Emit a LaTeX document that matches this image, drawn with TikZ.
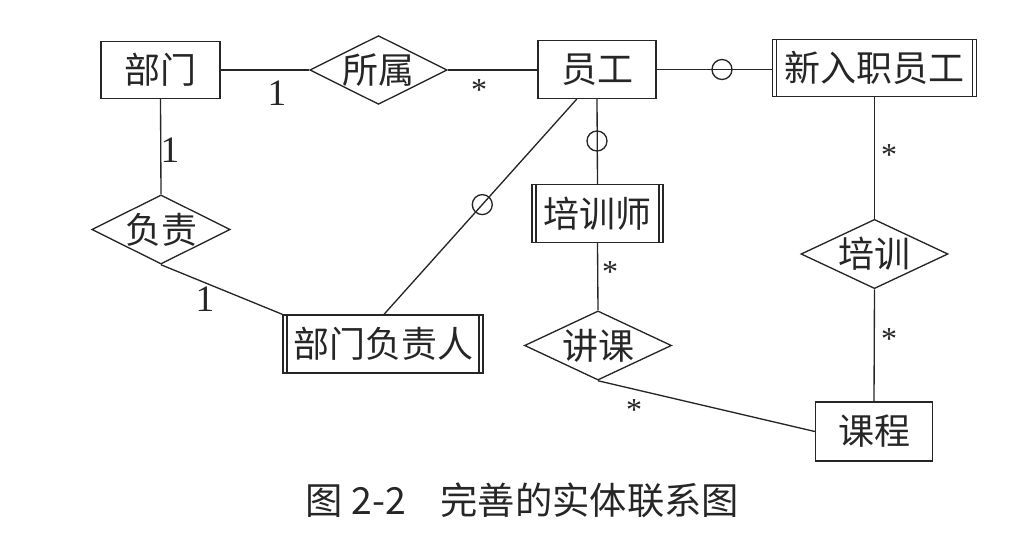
\documentclass[tikz,border=0pt]{standalone}
\usepackage{fontspec}
\setmainfont{Liberation Serif}
\newfontfamily\cjk{Noto Sans CJK SC}
\usetikzlibrary{shapes.geometric,calc}
\tikzset{
  ent/.style={draw, rectangle, inner sep=0pt, font=\cjk\fontsize{27}{30}\selectfont},
  weak/.style={ent, path picture={
      \draw ([xshift=3pt]path picture bounding box.north west) -- ([xshift=3pt]path picture bounding box.south west);
      \draw ([xshift=-3pt]path picture bounding box.north east) -- ([xshift=-3pt]path picture bounding box.south east);}},
  rel/.style={draw, diamond, aspect=2, inner sep=0pt, font=\cjk\fontsize{27}{30}\selectfont},
  opt/.style={draw, circle, minimum size=15pt, inner sep=0pt},
  card/.style={font=\fontsize{28}{30}\selectfont, inner sep=0pt},
  star/.style={font=\fontsize{24}{26}\selectfont, inner sep=0pt},
}
\begin{document}
\begin{tikzpicture}[x=0.75pt,y=-0.75pt,line width=1pt,color=black!85]
\useasboundingbox (0,0) rectangle (1029,549);
% entities
\node[ent, minimum width=89.25pt, minimum height=42.75pt] (bm) at (160.5,70) {部门};
\node[ent, minimum width=88.5pt, minimum height=43.5pt] (yg) at (597,69.5) {员工};
\node[weak, minimum width=153pt, minimum height=42.75pt] (xr) at (874.5,68) {新入职员工};
\node[weak, minimum width=98.25pt, minimum height=43.5pt] (pxs) at (597.5,213.5) {培训师};
\node[weak, minimum width=150pt, minimum height=43.5pt] (bmr) at (383,344) {部门负责人};
\node[ent, minimum width=87.75pt, minimum height=44.25pt] (kc) at (874,431.5) {课程};
% relationships
\node[rel, minimum width=98.25pt, minimum height=48.75pt] (ss) at (378.5,70) {所属};
\node[rel, minimum width=100.5pt, minimum height=48.75pt] (fz) at (161,229.5) {负责};
\node[rel, minimum width=110.25pt, minimum height=49.5pt] (px) at (874.5,254) {培训};
\node[rel, minimum width=110.25pt, minimum height=50.25pt] (jk) at (598,345.5) {讲课};
% connectors
\draw (bm.east) -- (ss.west);
\draw (ss.east) -- (yg.west |- ss.east);
\draw (bm.south) -- (fz.north);
\draw (fz.south) -- (bmr.north west);
\draw (yg.east) -- (xr.west |- yg.east);
\node[opt] (o1) at (722,69.5) {};
\draw (yg.south) -- (pxs.north);
\node[opt] (o2) at (597,141) {};
\coordinate (d1) at ($(yg.south west)!0.33!(yg.south east)$);
\coordinate (d2) at ($(bmr.north west)!0.505!(bmr.north east)$);
\draw (d1) -- (d2);
\node[opt] (o3) at ($(d1)!0.49!(d2)$) {};
\draw (pxs.south) -- (jk.north);
\draw (xr.south) -- (px.north);
\draw (px.south) -- (kc.north);
\draw (jk.south) -- (kc.west);
% cardinalities
\node[card] (c1) at (277,93) {1};
\node[star] (s1) at (479,90) {*};
\node[card] (c2) at (170,150) {1};
\node[card] (c3) at (205,299) {1};
\node[star] (s2) at (889,155) {*};
\node[star] (s3) at (889,339) {*};
\node[star] (s4) at (610,272) {*};
\node[star] (s5) at (634,410) {*};
% caption
\node[anchor=west, inner sep=0pt, font=\cjk\fontsize{28}{30}\selectfont] (cap) at (305,500) {图 2-2\hspace{26pt}完善的实体联系图};
\end{tikzpicture}
\end{document}
